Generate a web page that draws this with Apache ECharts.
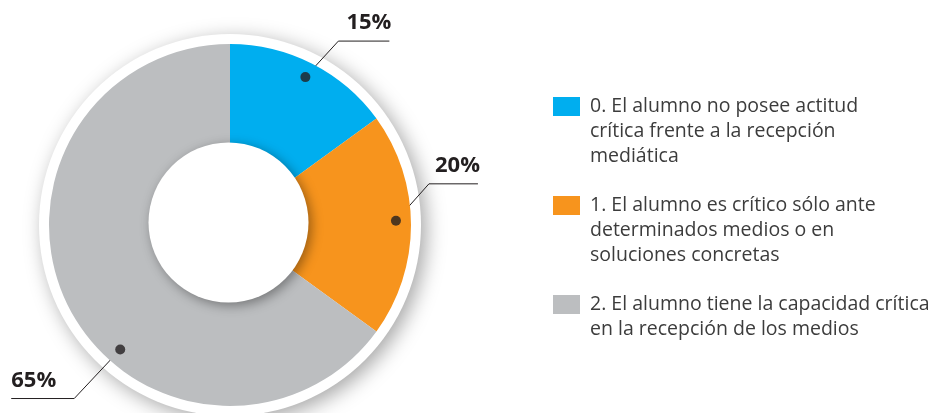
<!DOCTYPE html>
<html>
<head>
<meta charset="utf-8">
<script src="https://cdn.jsdelivr.net/npm/echarts@6/dist/echarts.min.js"></script>
<style>
  html, body { margin: 0; padding: 0; background: #fff; }
  #chart { width: 930px; height: 413px; }
</style>
</head>
<body>
<div id="chart"></div>
<script>
// datos
var categorias = [
  '0. El alumno no posee actitud\ncrítica frente a la recepción\nmediática',
  '1. El alumno es crítico sólo ante\ndeterminados medios o en\nsoluciones concretas',
  '2. El alumno tiene la capacidad crítica\nen la recepción de los medios'
];
var valores = [15, 20, 65];
var colores = ['#00aeef', '#f7941d', '#bcbec0'];

// geometria del anillo (px)
var cx = 230, cy = 225, R = 181, rHueco = 80;
var rPunto = 166;                 // radio donde va el punto de la etiqueta
var desvioPunto = [0, -0.4, -6];  // corrimiento del punto respecto al centro del sector (en %)
var guias = [                      // codo y tramo horizontal de cada linea guia
  { dx: 33, dy: -36, largo: 51 },
  { dx: 33, dy: -37, largo: 49 },
  { dx: -46, dy: 49, largo: -63 }
];

var total = valores.reduce(function (a, b) { return a + b; }, 0);
var angulos = [];
var acum = 0;
valores.forEach(function (v, i) {
  angulos.push((acum + v / 2) / total * 100 + desvioPunto[i]);
  acum += v;
});

function punto(i) {
  var a = angulos[i] * Math.PI / 50;
  return [cx + rPunto * Math.sin(a), cy - rPunto * Math.cos(a)];
}

// la leyenda centra el texto en el icono: se rellena con lineas vacias
// para que la primera linea quede a la altura del cuadrado
function textoLeyenda(nombre) {
  var n = nombre.split('\n').length;
  return '\n\n' + nombre + new Array(4 - n).join('\n');
}

var myChart = echarts.init(document.getElementById('chart'));

var option = {
  animation: false,
  legend: {
    orient: 'vertical',
    left: 553,
    top: 44,
    padding: 0,
    itemWidth: 27,
    itemHeight: 19,
    itemGap: -26,
    icon: 'rect',
    selectedMode: false,
    formatter: textoLeyenda,
    textStyle: {
      fontFamily: 'Open Sans',
      fontSize: 19.5,
      lineHeight: 25,
      color: '#3c3c3c',
      padding: [0, 0, 0, 5]
    },
    data: categorias
  },
  polar: { center: [cx, cy], radius: R },
  angleAxis: { type: 'value', min: 0, max: 100, startAngle: 90, clockwise: true, show: false },
  radiusAxis: { type: 'value', min: 0, max: R, show: false },
  series: [
    {
      // aro blanco con sombra
      type: 'pie',
      silent: true,
      z: 1,
      center: [cx, cy],
      radius: [0, 191],
      label: { show: false },
      itemStyle: {
        color: '#ffffff',
        shadowBlur: 20,
        shadowOffsetX: 5,
        shadowOffsetY: 5,
        shadowColor: 'rgba(0,0,0,0.35)'
      },
      data: [{ value: 1, name: '' }]
    },
    {
      type: 'pie',
      z: 2,
      center: [cx, cy],
      radius: [rHueco - 10, R],
      startAngle: 90,
      clockwise: true,
      avoidLabelOverlap: false,
      silent: true,
      data: valores.map(function (v, i) {
        return { value: v, name: categorias[i], itemStyle: { color: colores[i] } };
      }),
      label: {
        show: true,
        position: 'outside',
        formatter: '{c}%',
        fontFamily: 'Open Sans',
        fontWeight: 'bold',
        fontSize: 22,
        color: '#231f20'
      },
      labelLine: {
        show: true,
        lineStyle: { color: '#231f20', width: 1 }
      },
      labelLayout: function (p) {
        var i = p.dataIndex;
        var p0 = punto(i);
        var g = guias[i];
        var p1 = [p0[0] + g.dx, p0[1] + g.dy];
        var p2 = [p1[0] + g.largo, p1[1]];
        return {
          x: p2[0] + (g.largo > 0 ? 2 : 0),
          y: p1[1] - 18,
          align: g.largo > 0 ? 'right' : 'left',
          verticalAlign: 'middle',
          labelLinePoints: [p0, p1, p2]
        };
      }
    },
    {
      // hueco central elevado
      type: 'pie',
      silent: true,
      z: 3,
      center: [cx - 1.5, cy - 2.5],
      radius: [0, rHueco],
      label: { show: false },
      itemStyle: {
        color: '#ffffff',
        shadowBlur: 12,
        shadowOffsetX: 3,
        shadowOffsetY: 3,
        shadowColor: 'rgba(0,0,0,0.38)'
      },
      data: [{ value: 1, name: '' }]
    },
    {
      type: 'scatter',
      coordinateSystem: 'polar',
      z: 5,
      silent: true,
      symbolSize: 10,
      itemStyle: { color: '#231f20' },
      data: angulos.map(function (a) { return [rPunto, a]; })
    }
  ]
};

myChart.setOption(option);
</script>
</body>
</html>
